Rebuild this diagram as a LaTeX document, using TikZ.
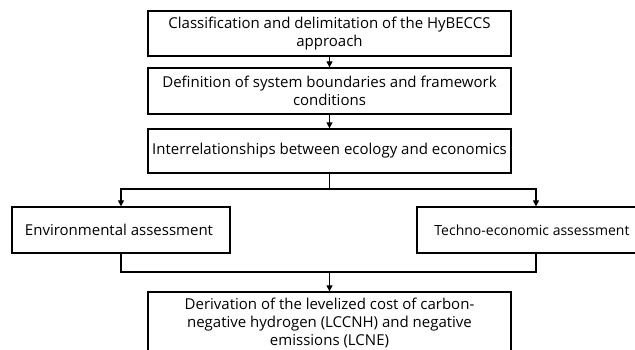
\documentclass[tikz,border=0pt]{standalone}
\usepackage{fontspec}
\setmainfont{Open Sans}
\usetikzlibrary{arrows.meta}
\begin{document}
\begin{tikzpicture}[x=1pt,y=1pt,
  box/.style={draw=black,line width=1.3pt,align=center,inner sep=0pt,
    font=\fontsize{15}{18}\selectfont},
  conn/.style={line width=1.3pt},
  arr/.style={line width=1.3pt,-{Triangle[length=6pt,width=6pt]}}]
\useasboundingbox (0,0) rectangle (635,350);
\clip (0,0) rectangle (635,350);
\fill[white] (0,0) rectangle (635,350);
\node[box,minimum width=363pt,minimum height=45pt] (b1) at (329.5,316.5)
  {Classification and delimitation of the HyBECCS\\approach};
\node[box,minimum width=363pt,minimum height=46pt] (b2) at (329.5,259)
  {Definition of system boundaries and framework\\conditions};
\node[box,minimum width=363pt,minimum height=44pt] (b3) at (329.5,199)
  {Interrelationships between ecology and economics};
\node[box,minimum width=218pt,minimum height=46pt] (env) at (121,120)
  {Environmental assessment\hspace*{4pt}};
\node[box,minimum width=238pt,minimum height=46pt,font=\fontsize{14}{18}\selectfont] (tec) at (536,120)
  {Techno-economic assessment\hspace*{8pt}};
\node[box,minimum width=363pt,minimum height=62pt] (b4) at (329.5,27)
  {Derivation of the levelized cost of carbon-\\negative hydrogen (LCCNH) and negative\\emissions (LCNE)};
\coordinate (split) at (329.5,161);
\coordinate (join) at (329.5,78);
\draw[arr] (b1.south) -- (b2.north);
\draw[arr] (b2.south) -- (b3.north);
\draw[conn] (b3.south) -- (split);
\draw[arr] (split) -| (env.north);
\draw[arr] (split) -| (tec.north);
\draw[conn] (env.south) |- (join);
\draw[conn] (tec.south) |- (join);
\draw[arr] (join) -- (b4.north);
\end{tikzpicture}
\end{document}
